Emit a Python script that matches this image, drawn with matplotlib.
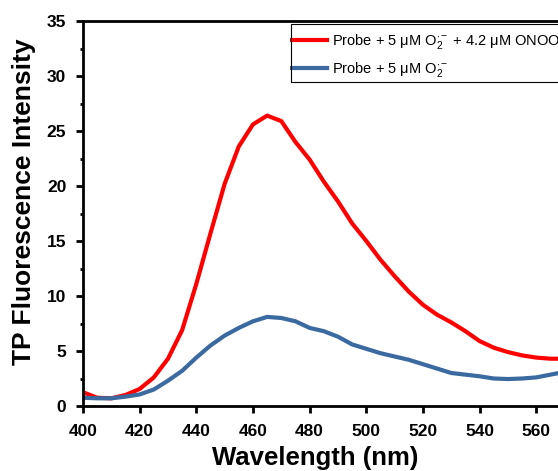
import numpy as np
import matplotlib
matplotlib.use("Agg")
import matplotlib.pyplot as plt
from matplotlib.patches import Rectangle
from matplotlib.ticker import MultipleLocator

plt.rcParams["font.family"] = ["Liberation Sans", "DejaVu Sans"]
plt.rcParams["mathtext.fontset"] = "custom"
plt.rcParams["mathtext.rm"] = "Liberation Sans"
plt.rcParams["mathtext.it"] = "Liberation Sans:italic"
plt.rcParams["mathtext.bf"] = "Liberation Sans:bold"

# wavelength grid (nm)
wavelength = [400, 405, 410, 415, 420, 425, 430, 435, 440, 445, 450, 455,
              460, 465, 470, 475, 480, 485, 490, 495, 500, 505, 510, 515,
              520, 525, 530, 535, 540, 545, 550, 555, 560, 565, 570]

# probe + O2.- + ONOO-
red_vals = [1.25, 0.75, 0.7, 1.0, 1.55, 2.6, 4.3, 6.9, 11.1, 15.7, 20.2, 23.6,
            25.6, 26.4, 25.9, 24.0, 22.4, 20.4, 18.6, 16.6, 15.0, 13.3, 11.8, 10.4,
            9.2, 8.3, 7.6, 6.8, 5.9, 5.3, 4.9, 4.6, 4.4, 4.3, 4.3]

# probe + O2.-
blue_vals = [0.75, 0.7, 0.7, 0.85, 1.05, 1.5, 2.3, 3.2, 4.4, 5.5, 6.4, 7.1,
             7.7, 8.1, 8.0, 7.7, 7.1, 6.8, 6.3, 5.6, 5.2, 4.8, 4.5, 4.2,
             3.8, 3.4, 3.0, 2.85, 2.7, 2.5, 2.45, 2.5, 2.6, 2.85, 3.1]

xticks = [400, 420, 440, 460, 480, 500, 520, 540, 560, 580]
yticks = [0, 5, 10, 15, 20, 25, 30, 35]

label_red = r"Probe + 5 μM O$_2^{\cdot -}$ + 4.2 μM ONOO$^{-}$"
label_blue = r"Probe + 5 μM O$_2^{\cdot -}$"

fig = plt.figure(figsize=(5.58, 4.71), dpi=100)
ax = fig.add_axes([83 / 558, 65 / 471, 566.6 / 558, 385 / 471])

ax.plot(wavelength, red_vals, color="#ff0000", lw=3, label=label_red)
ax.plot(wavelength, blue_vals, color="#3b6aa0", lw=3, label=label_blue)

ax.set_xlim(400, 600)
ax.set_ylim(0, 35)
ax.set_xticks(xticks)
ax.set_yticks(yticks)
ax.yaxis.set_minor_locator(MultipleLocator(2.5))

for s in ax.spines.values():
    s.set_linewidth(2)
ax.tick_params(axis="x", which="major", pad=8)
ax.tick_params(axis="y", which="major", pad=7)
ax.tick_params(which="major", direction="out", length=5, width=2, labelsize=12.5)
ax.tick_params(which="minor", direction="out", length=2.5, width=2)
for lab in ax.get_xticklabels() + ax.get_yticklabels():
    lab.set_fontweight("bold")

ax.set_xlabel("Wavelength (nm)", fontsize=18.5, fontweight="bold")
ax.set_ylabel("TP Fluorescence Intensity", fontsize=19, fontweight="bold")
ax.xaxis.set_label_coords(315 / 558, 1 - 446 / 471, transform=fig.transFigure)
ax.yaxis.set_label_coords(36 / 558, 1 - 202 / 471, transform=fig.transFigure)

# legend without its own frame, box drawn separately (runs past right edge)
leg = ax.legend(loc="upper left", bbox_to_anchor=(292 / 558, 1 - 32 / 471),
                bbox_transform=fig.transFigure, borderaxespad=0, borderpad=0,
                prop={"family": "Liberation Sans", "size": 10.5},
                frameon=False, handlelength=2.4, handletextpad=0.35,
                labelspacing=0.65)
fig.add_artist(Rectangle((291 / 558, 1 - 82 / 471), 0.6, 58 / 471,
                         transform=fig.transFigure, fill=False,
                         edgecolor="black", linewidth=0.8))

fig.savefig("out.png", dpi=100)
